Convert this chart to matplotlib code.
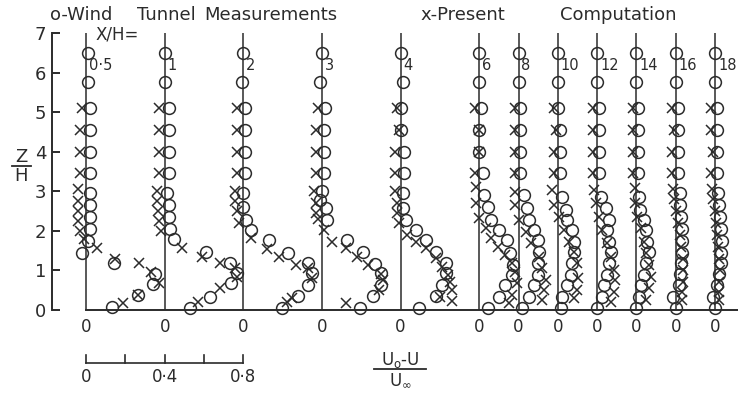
import matplotlib.pyplot as plt
from matplotlib.lines import Line2D

# X/H stations and their zero lines (in U-deficit units)
stations = ["0·5", "1", "2", "3", "4", "6", "8", "10", "12", "14", "16", "18"]
offsets = [0.0, 0.4, 0.8, 1.2, 1.6, 2.0, 2.2, 2.4, 2.6, 2.8, 3.0, 3.2]

# wind tunnel measurements (circles): Z/H and (U0-U)/Uinf
meas_z = [
    [6.5, 5.75, 5.1, 4.55, 4.0, 3.45, 2.95, 2.65, 2.35, 2.05, 1.75, 1.45, 1.2, 0.9, 0.66, 0.38, 0.08],
    [6.5, 5.75, 5.1, 4.55, 4.0, 3.45, 2.95, 2.65, 2.35, 2.05, 1.8, 1.46, 1.2, 0.93, 0.68, 0.33, 0.05],
    [6.5, 5.75, 5.1, 4.55, 4.0, 3.45, 2.95, 2.6, 2.27, 2.02, 1.77, 1.45, 1.18, 0.93, 0.63, 0.36, 0.06],
    [6.5, 5.75, 5.1, 4.55, 4.0, 3.45, 3.0, 2.78, 2.57, 2.27, 1.77, 1.46, 1.16, 0.93, 0.63, 0.36, 0.05],
    [6.5, 5.75, 5.1, 4.55, 4.0, 3.45, 2.95, 2.57, 2.27, 2.02, 1.77, 1.46, 1.18, 0.93, 0.63, 0.36, 0.05],
    [6.5, 5.75, 5.1, 4.55, 4.0, 3.45, 2.9, 2.6, 2.27, 2.02, 1.77, 1.43, 1.14, 0.88, 0.63, 0.33, 0.05],
    [6.5, 5.75, 5.1, 4.55, 4.0, 3.45, 2.9, 2.57, 2.27, 2.02, 1.77, 1.46, 1.18, 0.88, 0.63, 0.33, 0.05],
    [6.5, 5.75, 5.1, 4.55, 4.0, 3.45, 2.85, 2.53, 2.27, 2.02, 1.72, 1.46, 1.18, 0.88, 0.63, 0.33, 0.05],
    [6.5, 5.75, 5.1, 4.55, 4.0, 3.45, 2.85, 2.57, 2.27, 2.02, 1.72, 1.46, 1.18, 0.88, 0.63, 0.33, 0.05],
    [6.5, 5.75, 5.1, 4.55, 4.0, 3.45, 2.85, 2.53, 2.27, 2.02, 1.72, 1.46, 1.18, 0.88, 0.63, 0.33, 0.05],
    [6.5, 5.75, 5.1, 4.55, 4.0, 3.45, 2.95, 2.65, 2.35, 2.05, 1.75, 1.45, 1.18, 0.9, 0.63, 0.33, 0.05],
    [6.5, 5.75, 5.1, 4.55, 4.0, 3.45, 2.95, 2.65, 2.35, 2.05, 1.75, 1.45, 1.18, 0.9, 0.63, 0.33, 0.05],
]
meas_u = [
    [0.01, 0.01, 0.02, 0.02, 0.02, 0.02, 0.02, 0.02, 0.02, 0.02, 0.01, -0.02, 0.14, 0.35, 0.34, 0.265, 0.13],
    [0.0, 0.0, 0.02, 0.02, 0.02, 0.02, 0.01, 0.02, 0.02, 0.025, 0.05, 0.21, 0.33, 0.37, 0.34, 0.23, 0.13],
    [0.0, -0.005, 0.01, 0.01, 0.01, 0.01, 0.0, 0.0, 0.015, 0.04, 0.13, 0.23, 0.33, 0.35, 0.33, 0.28, 0.195],
    [0.0, -0.01, 0.015, 0.01, 0.01, 0.01, 0.0, -0.01, 0.02, 0.025, 0.13, 0.21, 0.27, 0.3, 0.3, 0.26, 0.195],
    [0.0, 0.01, 0.0, 0.0, 0.02, 0.02, 0.01, 0.01, 0.03, 0.08, 0.13, 0.18, 0.23, 0.23, 0.21, 0.18, 0.095],
    [0.0, 0.0, 0.01, 0.0, 0.0, 0.02, 0.025, 0.045, 0.06, 0.1, 0.14, 0.155, 0.17, 0.165, 0.13, 0.1, 0.045],
    [0.0, 0.0, 0.01, 0.01, 0.01, 0.01, 0.03, 0.045, 0.055, 0.08, 0.1, 0.105, 0.1, 0.1, 0.08, 0.055, 0.02],
    [0.0, 0.0, 0.0, 0.01, 0.01, 0.01, 0.02, 0.04, 0.045, 0.07, 0.08, 0.08, 0.07, 0.065, 0.045, 0.02, 0.015],
    [0.0, 0.0, 0.01, 0.01, 0.01, 0.01, 0.02, 0.045, 0.06, 0.05, 0.06, 0.07, 0.06, 0.05, 0.035, 0.025, 0.0],
    [0.0, 0.0, 0.01, 0.01, 0.01, 0.01, 0.015, 0.02, 0.04, 0.05, 0.055, 0.065, 0.05, 0.04, 0.025, 0.015, 0.0],
    [0.0, 0.0, 0.01, 0.01, 0.01, 0.01, 0.02, 0.02, 0.025, 0.03, 0.03, 0.03, 0.025, 0.02, 0.015, -0.015, 0.0],
    [0.0, 0.0, 0.01, 0.01, 0.01, 0.01, 0.015, 0.02, 0.025, 0.03, 0.035, 0.03, 0.03, 0.02, 0.01, -0.01, 0.0],
]

# present computation (crosses)
comp_z = [
    [5.1, 4.55, 4.0, 3.45, 3.05, 2.75, 2.5, 2.25, 2.0, 1.8, 1.57, 1.28, 1.18, 0.95, 0.68, 0.38, 0.18],
    [5.1, 4.55, 4.0, 3.45, 3.0, 2.75, 2.5, 2.25, 2.0, 1.57, 1.34, 1.18, 1.05, 0.84, 0.55, 0.2],
    [5.1, 4.55, 4.0, 3.45, 3.0, 2.75, 2.5, 2.2, 1.82, 1.55, 1.34, 1.14, 1.06, 0.8, 0.3, 0.2],
    [5.1, 4.55, 4.0, 3.45, 3.0, 2.7, 2.45, 2.3, 2.02, 1.72, 1.57, 1.34, 1.14, 0.9, 0.76, 0.5, 0.18],
    [5.1, 4.55, 4.0, 3.45, 3.0, 2.7, 2.45, 2.2, 1.9, 1.72, 1.57, 1.31, 1.09, 0.88, 0.7, 0.5, 0.33, 0.22],
    [5.1, 4.55, 4.0, 3.45, 3.1, 2.7, 2.32, 2.07, 1.82, 1.6, 1.39, 1.18, 0.96, 0.68, 0.38, 0.18],
    [5.1, 4.55, 4.0, 3.45, 2.97, 2.65, 2.27, 1.97, 1.69, 1.34, 1.06, 0.76, 0.5, 0.25],
    [5.1, 4.55, 4.0, 3.45, 3.03, 2.65, 2.35, 2.02, 1.72, 1.46, 1.18, 0.8, 0.5, 0.3],
    [5.1, 4.55, 4.0, 3.45, 3.03, 2.7, 2.35, 2.02, 1.69, 1.34, 1.0, 0.76, 0.46, 0.2],
    [5.1, 4.55, 4.0, 3.45, 3.08, 2.7, 2.35, 2.07, 1.72, 1.43, 1.14, 0.84, 0.55, 0.25],
    [5.1, 4.55, 4.0, 3.45, 3.05, 2.8, 2.5, 2.2, 1.9, 1.6, 1.3, 1.0, 0.7, 0.45, 0.25],
    [5.1, 4.55, 4.0, 3.45, 3.05, 2.8, 2.5, 2.2, 1.9, 1.6, 1.3, 1.0, 0.7, 0.45, 0.25],
]
comp_u = [
    [-0.02, -0.03, -0.03, -0.03, -0.04, -0.04, -0.04, -0.04, -0.03, -0.01, 0.055, 0.15, 0.27, 0.33, 0.37, 0.265, 0.19],
    [-0.03, -0.03, -0.03, -0.03, -0.04, -0.04, -0.035, -0.03, -0.02, 0.09, 0.19, 0.28, 0.36, 0.37, 0.28, 0.17],
    [-0.03, -0.03, -0.03, -0.03, -0.04, -0.04, -0.03, -0.02, 0.04, 0.12, 0.18, 0.27, 0.33, 0.35, 0.25, 0.22],
    [-0.02, -0.03, -0.03, -0.03, -0.04, -0.03, -0.03, -0.02, 0.01, 0.05, 0.12, 0.18, 0.235, 0.3, 0.31, 0.29, 0.12],
    [-0.02, -0.01, -0.03, -0.03, -0.03, -0.02, -0.02, -0.01, 0.035, 0.08, 0.13, 0.18, 0.21, 0.24, 0.25, 0.26, 0.2, 0.26],
    [-0.02, 0.0, 0.0, -0.02, -0.015, -0.015, 0.0, 0.035, 0.06, 0.095, 0.13, 0.165, 0.18, 0.19, 0.165, 0.15],
    [-0.02, -0.02, -0.02, -0.02, -0.02, -0.02, 0.0, 0.04, 0.065, 0.105, 0.12, 0.14, 0.13, 0.12],
    [-0.02, -0.01, -0.02, -0.02, -0.03, -0.02, 0.005, 0.03, 0.055, 0.08, 0.095, 0.1, 0.095, 0.08],
    [-0.02, -0.02, -0.02, -0.02, -0.015, -0.005, 0.01, 0.025, 0.05, 0.07, 0.085, 0.09, 0.085, 0.07],
    [-0.02, -0.02, -0.02, -0.02, -0.01, -0.008, 0.005, 0.025, 0.04, 0.05, 0.065, 0.075, 0.065, 0.05],
    [-0.02, -0.01, -0.02, -0.02, -0.015, -0.01, 0.0, 0.01, 0.02, 0.025, 0.035, 0.035, 0.035, 0.03, 0.03],
    [-0.02, -0.02, -0.01, -0.02, -0.015, -0.01, 0.0, 0.005, 0.01, 0.015, 0.02, 0.025, 0.02, 0.02, 0.02],
]

scale_ticks = [0, 0.2, 0.4, 0.6, 0.8]
scale_labels = {0: "0", 0.4: "0·4", 0.8: "0·8"}

ink = "#2b2b2b"
plt.rcParams['font.family'] = ['DejaVu Sans']

W, H = 738, 394
px = 196.6  # pixels per unit of velocity deficit
fig = plt.figure(figsize=(W / 100, H / 100), dpi=100)
ax = fig.add_axes([52 / W, 84 / H, 686 / W, 277 / H])
ax.set_xlim(-34 / px, 652 / px)
ax.set_ylim(0, 7)

for s in ['top', 'right']:
    ax.spines[s].set_visible(False)
ax.spines['left'].set_color(ink)
ax.spines['left'].set_linewidth(1.4)
ax.spines['bottom'].set_color(ink)
ax.spines['bottom'].set_linewidth(1.4)
ax.spines['bottom'].set_bounds(0, 652 / px)

ax.set_yticks(range(8))
ax.tick_params(axis='y', direction='in', length=6, width=1.4, colors=ink,
               labelsize=13, pad=4)
ax.set_xticks(offsets)
ax.set_xticklabels(["0"] * len(offsets))
ax.tick_params(axis='x', length=0, colors=ink, labelsize=12, pad=6)

for off, lab, zc, uc, zx, ux in zip(offsets, stations, meas_z, meas_u, comp_z, comp_u):
    ax.plot([off, off], [0, 7], color=ink, lw=1.1)
    ax.plot([off + u for u in uc], zc, 'o', ms=8.5, mfc='none', mec=ink, mew=1.1,
            clip_on=False)
    ax.plot([off + u for u in ux], zx, 'x', ms=7, mec=ink, mew=1.1, clip_on=False)
    ax.text(off + 0.015, 6.18, lab, fontsize=10.5, color=ink, ha='left', va='center')

ax.text(0.05, 6.95, "X/H=", fontsize=12, color=ink, ha='left', va='center')

# scale bar under the first profiles
ax.plot([scale_ticks[0], scale_ticks[-1]], [-1.34, -1.34], color=ink, lw=1.2,
        clip_on=False)
for t in scale_ticks:
    ax.plot([t, t], [-1.34, -1.14], color=ink, lw=1.2, clip_on=False)
for t, s in scale_labels.items():
    ax.text(t, -1.69, s, fontsize=12, color=ink, ha='center', va='center')

# title words
for word, x in [("o-Wind", 50), ("Tunnel", 137), ("Measurements", 204),
                ("x-Present", 420), ("Computation", 560)]:
    fig.text(x / W, 1 - 15 / H, word, fontsize=13, color=ink, ha='left', va='center')

# Z/H label
fig.text(21 / W, 1 - 157 / H, "Z", fontsize=13, color=ink, ha='center', va='center')
fig.text(21 / W, 1 - 176 / H, "H", fontsize=13, color=ink, ha='center', va='center')
fig.add_artist(Line2D([12 / W, 31 / W], [1 - 166 / H, 1 - 166 / H], color=ink, lw=1.3))

# (U0-U)/Uinf label
fig.text(400 / W, 1 - 360 / H, r"U$_\mathrm{o}$-U", fontsize=12, color=ink,
         ha='center', va='center')
fig.text(400 / W, 1 - 380 / H, r"U$_\infty$", fontsize=12, color=ink,
         ha='center', va='center')
fig.add_artist(Line2D([374 / W, 426 / W], [1 - 369 / H, 1 - 369 / H], color=ink, lw=1.3))

fig.savefig("out.png", dpi=100)
